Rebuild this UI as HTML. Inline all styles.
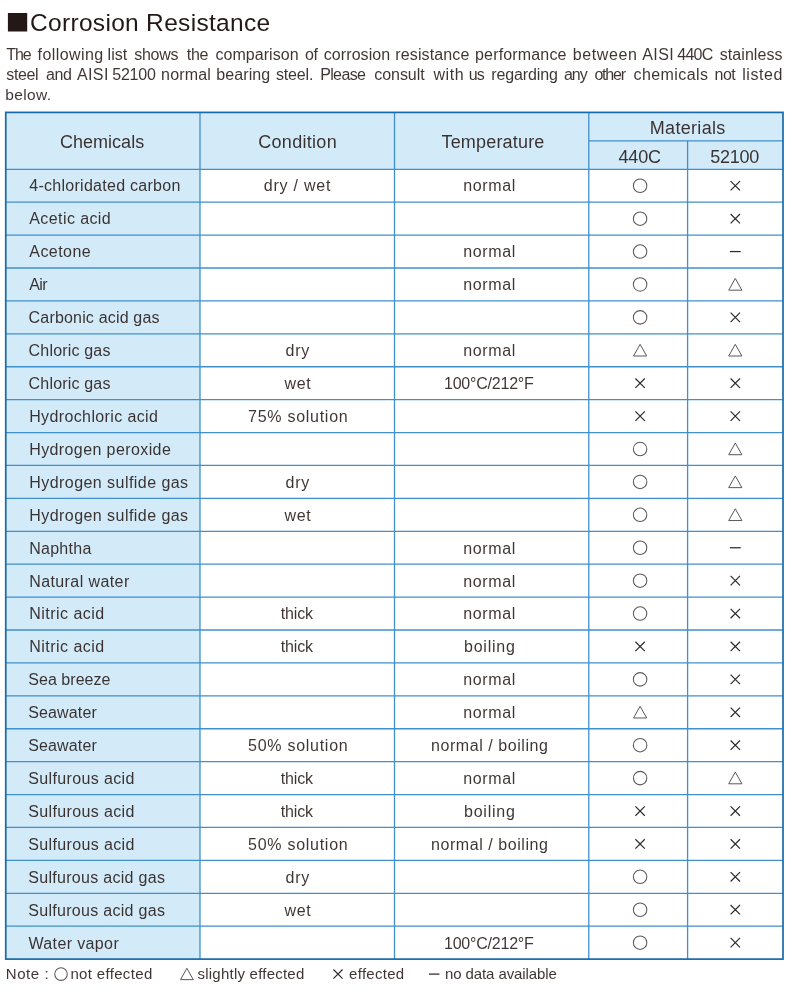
<!DOCTYPE html>
<html><head><meta charset="utf-8"><title>Corrosion Resistance</title>
<style>
html,body{margin:0;padding:0;background:#fff}
body{width:790px;height:993px;position:relative;overflow:hidden;font-family:"Liberation Sans",sans-serif;color:#2a2625}
svg{position:absolute;left:0;top:0}
span{position:absolute;white-space:nowrap}
#txt{position:absolute;left:0;top:0;width:790px;height:993px;will-change:transform;color:rgba(35,24,21,.88)}
.p{position:absolute;left:6.3px;font-size:16px;line-height:19px;letter-spacing:.25px;text-align:justify;text-align-last:justify;white-space:nowrap}
</style></head><body>
<svg width="790" height="993" viewBox="0 0 790 993">
<rect x="5.75" y="112.4" width="777.25" height="56.900000000000006" fill="#d3eaf8"/>
<rect x="5.75" y="169.3" width="194.25" height="789.8" fill="#d3eaf8"/>
<line x1="5.75" y1="169.30" x2="783.0" y2="169.30" stroke="#3f90cd" stroke-width="1.3"/>
<line x1="5.75" y1="202.21" x2="783.0" y2="202.21" stroke="#3f90cd" stroke-width="1.3"/>
<line x1="5.75" y1="235.12" x2="783.0" y2="235.12" stroke="#3f90cd" stroke-width="1.3"/>
<line x1="5.75" y1="268.02" x2="783.0" y2="268.02" stroke="#3f90cd" stroke-width="1.3"/>
<line x1="5.75" y1="300.93" x2="783.0" y2="300.93" stroke="#3f90cd" stroke-width="1.3"/>
<line x1="5.75" y1="333.84" x2="783.0" y2="333.84" stroke="#3f90cd" stroke-width="1.3"/>
<line x1="5.75" y1="366.75" x2="783.0" y2="366.75" stroke="#3f90cd" stroke-width="1.3"/>
<line x1="5.75" y1="399.66" x2="783.0" y2="399.66" stroke="#3f90cd" stroke-width="1.3"/>
<line x1="5.75" y1="432.57" x2="783.0" y2="432.57" stroke="#3f90cd" stroke-width="1.3"/>
<line x1="5.75" y1="465.47" x2="783.0" y2="465.47" stroke="#3f90cd" stroke-width="1.3"/>
<line x1="5.75" y1="498.38" x2="783.0" y2="498.38" stroke="#3f90cd" stroke-width="1.3"/>
<line x1="5.75" y1="531.29" x2="783.0" y2="531.29" stroke="#3f90cd" stroke-width="1.3"/>
<line x1="5.75" y1="564.20" x2="783.0" y2="564.20" stroke="#3f90cd" stroke-width="1.3"/>
<line x1="5.75" y1="597.11" x2="783.0" y2="597.11" stroke="#3f90cd" stroke-width="1.3"/>
<line x1="5.75" y1="630.02" x2="783.0" y2="630.02" stroke="#3f90cd" stroke-width="1.3"/>
<line x1="5.75" y1="662.92" x2="783.0" y2="662.92" stroke="#3f90cd" stroke-width="1.3"/>
<line x1="5.75" y1="695.83" x2="783.0" y2="695.83" stroke="#3f90cd" stroke-width="1.3"/>
<line x1="5.75" y1="728.74" x2="783.0" y2="728.74" stroke="#3f90cd" stroke-width="1.3"/>
<line x1="5.75" y1="761.65" x2="783.0" y2="761.65" stroke="#3f90cd" stroke-width="1.3"/>
<line x1="5.75" y1="794.56" x2="783.0" y2="794.56" stroke="#3f90cd" stroke-width="1.3"/>
<line x1="5.75" y1="827.47" x2="783.0" y2="827.47" stroke="#3f90cd" stroke-width="1.3"/>
<line x1="5.75" y1="860.38" x2="783.0" y2="860.38" stroke="#3f90cd" stroke-width="1.3"/>
<line x1="5.75" y1="893.28" x2="783.0" y2="893.28" stroke="#3f90cd" stroke-width="1.3"/>
<line x1="5.75" y1="926.19" x2="783.0" y2="926.19" stroke="#3f90cd" stroke-width="1.3"/>
<line x1="588.8" y1="140.8" x2="783.0" y2="140.8" stroke="#3f90cd" stroke-width="1.3"/>
<line x1="200.0" y1="112.4" x2="200.0" y2="959.1" stroke="#3f90cd" stroke-width="1.3"/>
<line x1="394.5" y1="112.4" x2="394.5" y2="959.1" stroke="#3f90cd" stroke-width="1.3"/>
<line x1="588.8" y1="112.4" x2="588.8" y2="959.1" stroke="#3f90cd" stroke-width="1.3"/>
<line x1="687.6" y1="140.8" x2="687.6" y2="959.1" stroke="#3f90cd" stroke-width="1.3"/>
<rect x="5.75" y="112.4" width="777.25" height="846.7" fill="none" stroke="#1769ad" stroke-width="1.7"/>
<circle cx="640.10" cy="185.75" r="6.75" fill="none" stroke="#5c5856" stroke-width="1.05"/>
<path d="M730.60 181.05L740.00 190.45M740.00 181.05L730.60 190.45" stroke="#2e2a29" stroke-width="1.2" fill="none"/>
<circle cx="640.10" cy="218.66" r="6.75" fill="none" stroke="#5c5856" stroke-width="1.05"/>
<path d="M730.60 213.96L740.00 223.36M740.00 213.96L730.60 223.36" stroke="#2e2a29" stroke-width="1.2" fill="none"/>
<circle cx="640.10" cy="251.57" r="6.75" fill="none" stroke="#5c5856" stroke-width="1.05"/>
<path d="M729.90 251.57L740.70 251.57" stroke="#2e2a29" stroke-width="1.25" fill="none"/>
<circle cx="640.10" cy="284.48" r="6.75" fill="none" stroke="#5c5856" stroke-width="1.05"/>
<path d="M735.30 278.48L741.90 290.18L728.70 290.18Z" stroke="#5c5856" stroke-width="1.0" fill="none" stroke-linejoin="miter"/>
<circle cx="640.10" cy="317.39" r="6.75" fill="none" stroke="#5c5856" stroke-width="1.05"/>
<path d="M730.60 312.69L740.00 322.09M740.00 312.69L730.60 322.09" stroke="#2e2a29" stroke-width="1.2" fill="none"/>
<path d="M640.10 344.30L646.70 356.00L633.50 356.00Z" stroke="#5c5856" stroke-width="1.0" fill="none" stroke-linejoin="miter"/>
<path d="M735.30 344.30L741.90 356.00L728.70 356.00Z" stroke="#5c5856" stroke-width="1.0" fill="none" stroke-linejoin="miter"/>
<path d="M635.40 378.50L644.80 387.90M644.80 378.50L635.40 387.90" stroke="#2e2a29" stroke-width="1.2" fill="none"/>
<path d="M730.60 378.50L740.00 387.90M740.00 378.50L730.60 387.90" stroke="#2e2a29" stroke-width="1.2" fill="none"/>
<path d="M635.40 411.41L644.80 420.81M644.80 411.41L635.40 420.81" stroke="#2e2a29" stroke-width="1.2" fill="none"/>
<path d="M730.60 411.41L740.00 420.81M740.00 411.41L730.60 420.81" stroke="#2e2a29" stroke-width="1.2" fill="none"/>
<circle cx="640.10" cy="449.02" r="6.75" fill="none" stroke="#5c5856" stroke-width="1.05"/>
<path d="M735.30 443.02L741.90 454.72L728.70 454.72Z" stroke="#5c5856" stroke-width="1.0" fill="none" stroke-linejoin="miter"/>
<circle cx="640.10" cy="481.93" r="6.75" fill="none" stroke="#5c5856" stroke-width="1.05"/>
<path d="M735.30 475.93L741.90 487.63L728.70 487.63Z" stroke="#5c5856" stroke-width="1.0" fill="none" stroke-linejoin="miter"/>
<circle cx="640.10" cy="514.84" r="6.75" fill="none" stroke="#5c5856" stroke-width="1.05"/>
<path d="M735.30 508.84L741.90 520.54L728.70 520.54Z" stroke="#5c5856" stroke-width="1.0" fill="none" stroke-linejoin="miter"/>
<circle cx="640.10" cy="547.75" r="6.75" fill="none" stroke="#5c5856" stroke-width="1.05"/>
<path d="M729.90 547.75L740.70 547.75" stroke="#2e2a29" stroke-width="1.25" fill="none"/>
<circle cx="640.10" cy="580.65" r="6.75" fill="none" stroke="#5c5856" stroke-width="1.05"/>
<path d="M730.60 575.95L740.00 585.35M740.00 575.95L730.60 585.35" stroke="#2e2a29" stroke-width="1.2" fill="none"/>
<circle cx="640.10" cy="613.56" r="6.75" fill="none" stroke="#5c5856" stroke-width="1.05"/>
<path d="M730.60 608.86L740.00 618.26M740.00 608.86L730.60 618.26" stroke="#2e2a29" stroke-width="1.2" fill="none"/>
<path d="M635.40 641.77L644.80 651.17M644.80 641.77L635.40 651.17" stroke="#2e2a29" stroke-width="1.2" fill="none"/>
<path d="M730.60 641.77L740.00 651.17M740.00 641.77L730.60 651.17" stroke="#2e2a29" stroke-width="1.2" fill="none"/>
<circle cx="640.10" cy="679.38" r="6.75" fill="none" stroke="#5c5856" stroke-width="1.05"/>
<path d="M730.60 674.68L740.00 684.08M740.00 674.68L730.60 684.08" stroke="#2e2a29" stroke-width="1.2" fill="none"/>
<path d="M640.10 706.29L646.70 717.99L633.50 717.99Z" stroke="#5c5856" stroke-width="1.0" fill="none" stroke-linejoin="miter"/>
<path d="M730.60 707.59L740.00 716.99M740.00 707.59L730.60 716.99" stroke="#2e2a29" stroke-width="1.2" fill="none"/>
<circle cx="640.10" cy="745.20" r="6.75" fill="none" stroke="#5c5856" stroke-width="1.05"/>
<path d="M730.60 740.50L740.00 749.90M740.00 740.50L730.60 749.90" stroke="#2e2a29" stroke-width="1.2" fill="none"/>
<circle cx="640.10" cy="778.10" r="6.75" fill="none" stroke="#5c5856" stroke-width="1.05"/>
<path d="M735.30 772.10L741.90 783.80L728.70 783.80Z" stroke="#5c5856" stroke-width="1.0" fill="none" stroke-linejoin="miter"/>
<path d="M635.40 806.31L644.80 815.71M644.80 806.31L635.40 815.71" stroke="#2e2a29" stroke-width="1.2" fill="none"/>
<path d="M730.60 806.31L740.00 815.71M740.00 806.31L730.60 815.71" stroke="#2e2a29" stroke-width="1.2" fill="none"/>
<path d="M635.40 839.22L644.80 848.62M644.80 839.22L635.40 848.62" stroke="#2e2a29" stroke-width="1.2" fill="none"/>
<path d="M730.60 839.22L740.00 848.62M740.00 839.22L730.60 848.62" stroke="#2e2a29" stroke-width="1.2" fill="none"/>
<circle cx="640.10" cy="876.83" r="6.75" fill="none" stroke="#5c5856" stroke-width="1.05"/>
<path d="M730.60 872.13L740.00 881.53M740.00 872.13L730.60 881.53" stroke="#2e2a29" stroke-width="1.2" fill="none"/>
<circle cx="640.10" cy="909.74" r="6.75" fill="none" stroke="#5c5856" stroke-width="1.05"/>
<path d="M730.60 905.04L740.00 914.44M740.00 905.04L730.60 914.44" stroke="#2e2a29" stroke-width="1.2" fill="none"/>
<circle cx="640.10" cy="942.65" r="6.75" fill="none" stroke="#5c5856" stroke-width="1.05"/>
<path d="M730.60 937.95L740.00 947.35M740.00 937.95L730.60 947.35" stroke="#2e2a29" stroke-width="1.2" fill="none"/>
<circle cx="61.00" cy="974.10" r="6.28" fill="none" stroke="#5c5856" stroke-width="1.05"/>
<path d="M186.90 968.28L193.30 979.63L180.50 979.63Z" stroke="#5c5856" stroke-width="1.0" fill="none" stroke-linejoin="miter"/>
<path d="M333.44 969.54L342.56 978.66M342.56 969.54L333.44 978.66" stroke="#2e2a29" stroke-width="1.2" fill="none"/>
<path d="M428.96 974.10L439.44 974.10" stroke="#2e2a29" stroke-width="1.25" fill="none"/>
<rect x="7.9" y="13" width="19.3" height="18.5" fill="#231815"/>
</svg>
<div id="txt">
<span style="left:29.30px;top:176.36px;font-size:16px;line-height:19px;letter-spacing:0.270px">4-chloridated carbon</span>
<span style="left:263.85px;top:176.36px;font-size:16px;line-height:19px;letter-spacing:0.761px">dry / wet</span>
<span style="left:463.30px;top:176.36px;font-size:16px;line-height:19px;letter-spacing:0.610px">normal</span>
<span style="left:29.30px;top:209.29px;font-size:16px;line-height:19px;letter-spacing:0.403px">Acetic acid</span>
<span style="left:29.30px;top:242.22px;font-size:16px;line-height:19px;letter-spacing:0.448px">Acetone</span>
<span style="left:463.30px;top:242.22px;font-size:16px;line-height:19px;letter-spacing:0.610px">normal</span>
<span style="left:29.30px;top:275.15px;font-size:16px;line-height:19px;letter-spacing:-0.613px">Air</span>
<span style="left:463.30px;top:275.15px;font-size:16px;line-height:19px;letter-spacing:0.610px">normal</span>
<span style="left:28.60px;top:308.08px;font-size:16px;line-height:19px;letter-spacing:0.177px">Carbonic acid gas</span>
<span style="left:28.60px;top:341.01px;font-size:16px;line-height:19px;letter-spacing:0.177px">Chloric gas</span>
<span style="left:285.60px;top:341.01px;font-size:16px;line-height:19px;letter-spacing:0.687px">dry</span>
<span style="left:463.30px;top:341.01px;font-size:16px;line-height:19px;letter-spacing:0.610px">normal</span>
<span style="left:28.60px;top:373.94px;font-size:16px;line-height:19px;letter-spacing:0.177px">Chloric gas</span>
<span style="left:284.45px;top:373.94px;font-size:16px;line-height:19px;letter-spacing:0.723px">wet</span>
<span style="left:443.95px;top:373.94px;font-size:16px;line-height:19px;letter-spacing:-0.209px">100°C/212°F</span>
<span style="left:29.20px;top:406.87px;font-size:16px;line-height:19px;letter-spacing:0.374px">Hydrochloric acid</span>
<span style="left:248.05px;top:406.87px;font-size:16px;line-height:19px;letter-spacing:0.726px">75% solution</span>
<span style="left:29.20px;top:439.80px;font-size:16px;line-height:19px;letter-spacing:0.400px">Hydrogen peroxide</span>
<span style="left:29.20px;top:472.73px;font-size:16px;line-height:19px;letter-spacing:0.452px">Hydrogen sulfide gas</span>
<span style="left:285.60px;top:472.73px;font-size:16px;line-height:19px;letter-spacing:0.687px">dry</span>
<span style="left:29.20px;top:505.66px;font-size:16px;line-height:19px;letter-spacing:0.452px">Hydrogen sulfide gas</span>
<span style="left:284.45px;top:505.66px;font-size:16px;line-height:19px;letter-spacing:0.723px">wet</span>
<span style="left:29.20px;top:538.59px;font-size:16px;line-height:19px;letter-spacing:0.268px">Naphtha</span>
<span style="left:463.30px;top:538.59px;font-size:16px;line-height:19px;letter-spacing:0.610px">normal</span>
<span style="left:29.20px;top:571.52px;font-size:16px;line-height:19px;letter-spacing:0.407px">Natural water</span>
<span style="left:463.30px;top:571.52px;font-size:16px;line-height:19px;letter-spacing:0.610px">normal</span>
<span style="left:29.20px;top:604.45px;font-size:16px;line-height:19px;letter-spacing:0.476px">Nitric acid</span>
<span style="left:280.70px;top:604.45px;font-size:16px;line-height:19px;letter-spacing:-0.125px">thick</span>
<span style="left:463.30px;top:604.45px;font-size:16px;line-height:19px;letter-spacing:0.610px">normal</span>
<span style="left:29.20px;top:637.38px;font-size:16px;line-height:19px;letter-spacing:0.476px">Nitric acid</span>
<span style="left:280.70px;top:637.38px;font-size:16px;line-height:19px;letter-spacing:-0.125px">thick</span>
<span style="left:463.95px;top:637.38px;font-size:16px;line-height:19px;letter-spacing:0.790px">boiling</span>
<span style="left:28.30px;top:670.31px;font-size:16px;line-height:19px;letter-spacing:0.040px">Sea breeze</span>
<span style="left:463.30px;top:670.31px;font-size:16px;line-height:19px;letter-spacing:0.610px">normal</span>
<span style="left:28.30px;top:703.24px;font-size:16px;line-height:19px;letter-spacing:0.119px">Seawater</span>
<span style="left:463.30px;top:703.24px;font-size:16px;line-height:19px;letter-spacing:0.610px">normal</span>
<span style="left:28.30px;top:736.17px;font-size:16px;line-height:19px;letter-spacing:0.119px">Seawater</span>
<span style="left:248.05px;top:736.17px;font-size:16px;line-height:19px;letter-spacing:0.726px">50% solution</span>
<span style="left:431.05px;top:736.17px;font-size:16px;line-height:19px;letter-spacing:0.553px">normal / boiling</span>
<span style="left:28.30px;top:769.10px;font-size:16px;line-height:19px;letter-spacing:0.354px">Sulfurous acid</span>
<span style="left:280.70px;top:769.10px;font-size:16px;line-height:19px;letter-spacing:-0.125px">thick</span>
<span style="left:463.30px;top:769.10px;font-size:16px;line-height:19px;letter-spacing:0.610px">normal</span>
<span style="left:28.30px;top:802.03px;font-size:16px;line-height:19px;letter-spacing:0.354px">Sulfurous acid</span>
<span style="left:280.70px;top:802.03px;font-size:16px;line-height:19px;letter-spacing:-0.125px">thick</span>
<span style="left:463.95px;top:802.03px;font-size:16px;line-height:19px;letter-spacing:0.790px">boiling</span>
<span style="left:28.30px;top:834.96px;font-size:16px;line-height:19px;letter-spacing:0.354px">Sulfurous acid</span>
<span style="left:248.05px;top:834.96px;font-size:16px;line-height:19px;letter-spacing:0.726px">50% solution</span>
<span style="left:431.05px;top:834.96px;font-size:16px;line-height:19px;letter-spacing:0.553px">normal / boiling</span>
<span style="left:28.30px;top:867.89px;font-size:16px;line-height:19px;letter-spacing:0.292px">Sulfurous acid gas</span>
<span style="left:285.60px;top:867.89px;font-size:16px;line-height:19px;letter-spacing:0.687px">dry</span>
<span style="left:28.30px;top:900.82px;font-size:16px;line-height:19px;letter-spacing:0.292px">Sulfurous acid gas</span>
<span style="left:284.45px;top:900.82px;font-size:16px;line-height:19px;letter-spacing:0.723px">wet</span>
<span style="left:28.40px;top:933.75px;font-size:16px;line-height:19px;letter-spacing:0.378px">Water vapor</span>
<span style="left:443.95px;top:933.75px;font-size:16px;line-height:19px;letter-spacing:-0.209px">100°C/212°F</span>
<span style="left:59.90px;top:130.86px;font-size:18px;line-height:22px;letter-spacing:0.035px">Chemicals</span>
<span style="left:258.20px;top:130.86px;font-size:18px;line-height:22px;letter-spacing:0.307px">Condition</span>
<span style="left:441.50px;top:130.86px;font-size:18px;line-height:22px;letter-spacing:0.176px">Temperature</span>
<span style="left:649.80px;top:116.86px;font-size:18px;line-height:22px;letter-spacing:0.310px">Materials</span>
<span style="left:618.50px;top:146.16px;font-size:18px;line-height:22px;letter-spacing:-0.144px">440C</span>
<span style="left:710.20px;top:146.16px;font-size:18px;line-height:22px;letter-spacing:-0.261px">52100</span>
<span style="left:30.00px;top:8.31px;font-size:24.5px;line-height:29px;letter-spacing:0.311px;color:#231815">Corrosion Resistance</span>
<span style="left:5.80px;top:964.80px;font-size:15px;line-height:18px;letter-spacing:0.570px">Note :</span>
<span style="left:70.40px;top:964.80px;font-size:15px;line-height:18px;letter-spacing:0.338px">not effected</span>
<span style="left:197.50px;top:964.80px;font-size:15px;line-height:18px;letter-spacing:0.227px">slightly effected</span>
<span style="left:349.10px;top:964.80px;font-size:15px;line-height:18px;letter-spacing:0.277px">effected</span>
<span style="left:445.00px;top:964.80px;font-size:15px;line-height:18px;letter-spacing:-0.099px">no data available</span>
<span style="left:5.30px;top:84.63px;font-size:15.5px;line-height:19px;letter-spacing:0.371px">below.</span>
<span style="left:6.30px;top:45.36px;font-size:16px;line-height:19px;letter-spacing:-1.136px">The</span>
<span style="left:37.60px;top:45.36px;font-size:16px;line-height:19px;letter-spacing:0.418px">following</span>
<span style="left:107.60px;top:45.36px;font-size:16px;line-height:19px;letter-spacing:0.030px">list</span>
<span style="left:134.20px;top:45.36px;font-size:16px;line-height:19px;letter-spacing:-0.263px">shows</span>
<span style="left:186.80px;top:45.36px;font-size:16px;line-height:19px;letter-spacing:-0.272px">the</span>
<span style="left:215.40px;top:45.36px;font-size:16px;line-height:19px;letter-spacing:0.055px">comparison</span>
<span style="left:304.90px;top:45.36px;font-size:16px;line-height:19px;letter-spacing:-0.298px">of</span>
<span style="left:323.80px;top:45.36px;font-size:16px;line-height:19px;letter-spacing:0.074px">corrosion</span>
<span style="left:395.30px;top:45.36px;font-size:16px;line-height:19px;letter-spacing:0.120px">resistance</span>
<span style="left:475.00px;top:45.36px;font-size:16px;line-height:19px;letter-spacing:0.168px">performance</span>
<span style="left:572.70px;top:45.36px;font-size:16px;line-height:19px;letter-spacing:0.618px">between</span>
<span style="left:642.20px;top:45.36px;font-size:16px;line-height:19px;letter-spacing:0.437px">AISI</span>
<span style="left:677.20px;top:45.36px;font-size:16px;line-height:19px;letter-spacing:-0.698px">440C</span>
<span style="left:719.80px;top:45.36px;font-size:16px;line-height:19px;letter-spacing:0.056px">stainless</span>
<span style="left:6.30px;top:65.36px;font-size:16px;line-height:19px;letter-spacing:-0.361px">steel</span>
<span style="left:45.90px;top:65.36px;font-size:16px;line-height:19px;letter-spacing:-0.348px">and</span>
<span style="left:76.90px;top:65.36px;font-size:16px;line-height:19px;letter-spacing:0.404px">AISI</span>
<span style="left:112.30px;top:65.36px;font-size:16px;line-height:19px;letter-spacing:-0.248px">52100</span>
<span style="left:161.10px;top:65.36px;font-size:16px;line-height:19px;letter-spacing:0.170px">normal</span>
<span style="left:216.30px;top:65.36px;font-size:16px;line-height:19px;letter-spacing:0.087px">bearing</span>
<span style="left:276.00px;top:65.36px;font-size:16px;line-height:19px;letter-spacing:-0.179px">steel.</span>
<span style="left:320.20px;top:65.36px;font-size:16px;line-height:19px;letter-spacing:-0.645px">Please</span>
<span style="left:374.30px;top:65.36px;font-size:16px;line-height:19px;letter-spacing:-0.058px">consult</span>
<span style="left:433.40px;top:65.36px;font-size:16px;line-height:19px;letter-spacing:0.582px">with</span>
<span style="left:468.80px;top:65.36px;font-size:16px;line-height:19px;letter-spacing:-0.898px">us</span>
<span style="left:491.30px;top:65.36px;font-size:16px;line-height:19px;letter-spacing:-0.138px">regarding</span>
<span style="left:564.00px;top:65.36px;font-size:16px;line-height:19px;letter-spacing:-1.048px">any</span>
<span style="left:594.40px;top:65.36px;font-size:16px;line-height:19px;letter-spacing:-1.185px">other</span>
<span style="left:633.50px;top:65.36px;font-size:16px;line-height:19px;letter-spacing:0.433px">chemicals</span>
<span style="left:714.60px;top:65.36px;font-size:16px;line-height:19px;letter-spacing:-0.598px">not</span>
<span style="left:742.20px;top:65.36px;font-size:16px;line-height:19px;letter-spacing:0.589px">listed</span>
</div>
</body></html>
